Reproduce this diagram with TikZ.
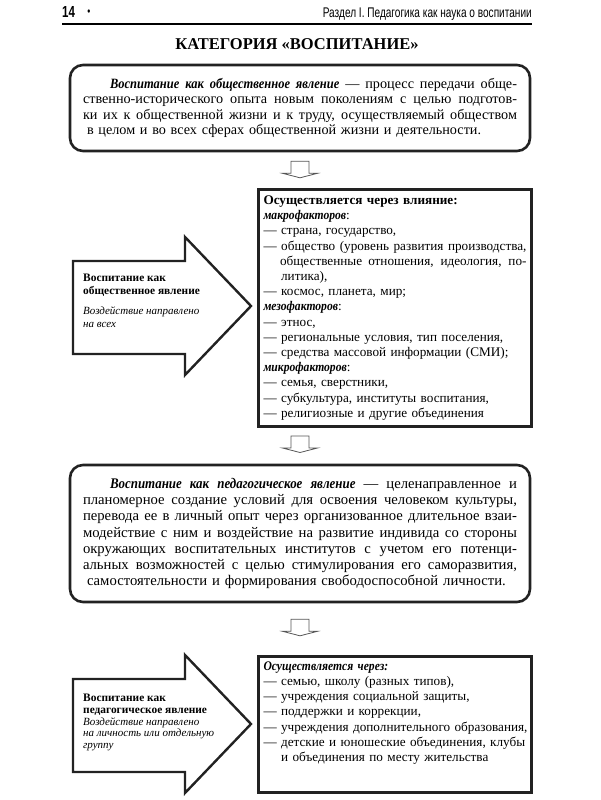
\documentclass[tikz,border=0pt]{standalone}
\usepackage{fontspec}
\setmainfont{Liberation Serif}[BoldItalicFeatures={FakeStretch=0.88}]
\newfontfamily\headfont[FakeStretch=0.72]{Liberation Sans}
\usetikzlibrary{calc}
\definecolor{framegray}{HTML}{222222}
\definecolor{arrowgray}{HTML}{555555}
\newcommand{\jline}[2][434pt]{\leavevmode\hbox to #1{\spaceskip=0.25em plus 1em minus 0.06em\xspaceskip=0.3em plus 1em minus 0.06em\relax#2}}
\tikzset{
  roundbox/.style={draw=framegray,line width=2.6pt,rounded corners=13pt,minimum width=460pt,inner xsep=13pt,text width=434pt,align=left},
  squarebox/.style={draw=framegray,line width=3pt,anchor=north west,minimum width=273pt,inner sep=5pt,text width=263pt,align=left,font=\fontsize{13.2}{15.2}\selectfont},
  bigarrow/.style={draw=framegray,line width=2.4pt,line join=miter},
  arrowtext/.style={anchor=north west,inner sep=0pt,align=left},
  blockdown/.pic={\draw[arrowgray,line width=0.8pt] (-9,0) -- (9,0) -- (9,12) -- (17.5,12) -- (0,16.5) -- (-17.5,12) -- (-9,12) -- cycle;}
}

\begin{document}
\begin{tikzpicture}[x=1pt,y=-1pt]
    \useasboundingbox (0,0) rectangle (600,800);
    \node[anchor=base west,inner sep=0pt,font=\headfont\bfseries\fontsize{16}{16}\selectfont] (pagenum) at (62,18) {14};
    \node[anchor=base,inner sep=0pt,font=\headfont\fontsize{12}{12}\selectfont] (pagedot) at (89,16) {•};
    \node[anchor=base east,inner sep=0pt,font=\headfont\fontsize{14}{14}\selectfont] (runhead) at (532,18) {Раздел I. Педагогика как наука о воспитании};
    \draw[line width=1.4pt] (62,24) -- (532,24);
    \node[font=\bfseries\fontsize{16.5}{16.5}\selectfont] (title) at (297,44) {КАТЕГОРИЯ «ВОСПИТАНИЕ»};

    \node[roundbox,minimum height=86pt,font=\fontsize{14.2}{15.5}\selectfont] (social) at (300,108) {%
        \jline{\hspace*{27pt}\textbf{\textit{Воспитание как общественное явление}} — процесс передачи обще-}\\
        \jline{ственно-исторического опыта новым поколениям с целью подготов-}\\
        \jline{ки их к общественной жизни и к труду, осуществляемый обществом}\\
        \hspace*{4pt}в целом и во всех сферах общественной жизни и деятельности.};

    \node[squarebox,minimum height=237pt] (influence) at (257,188) {%
        \textbf{Осуществляется через влияние:}\\
        \textbf{\textit{макрофакторов}}:\\
        — страна, государство,\\
        \jline[263pt]{— общество (уровень развития производства,}\\
        \jline[263pt]{\phantom{— }общественные отношения, идеология, по-}\\
        \phantom{— }литика),\\
        — космос, планета, мир;\\
        \textbf{\textit{мезофакторов}}:\\
        — этнос,\\
        — региональные условия, тип поселения,\\
        \makebox[263pt][l]{— средства массовой информации (СМИ);}\\
        \textbf{\textit{микрофакторов}}:\\
        — семья, сверстники,\\
        — субкультура, институты воспитания,\\
        — религиозные и другие объединения};

    \node[roundbox,minimum height=137pt,font=\fontsize{14.7}{16.3}\selectfont] (pedag) at (300,533.5) {%
        \jline{\hspace*{27pt}\textbf{\textit{Воспитание как педагогическое явление}} — целенаправленное и}\\
        \jline{планомерное создание условий для освоения человеком культуры,}\\
        \jline{перевода ее в личный опыт через организованное длительное взаи-}\\
        \jline{модействие с ним и воздействие на развитие индивида со стороны}\\
        \jline{окружающих воспитательных институтов с учетом его потенци-}\\
        \jline{альных возможностей с целью стимулирования его саморазвития,}\\
        \hspace*{4pt}самостоятельности и формирования свободоспособной личности.};

    \node[squarebox,text depth=117pt] (agents) at (257,655) {%
        \textbf{\textit{Осуществляется через:}}\\
        — семью, школу (разных типов),\\
        — учреждения социальной защиты,\\
        — поддержки и коррекции,\\
        \makebox[263pt][l]{— учреждения дополнительного образования,}\\
        \makebox[263pt][l]{— детские и юношеские объединения, клубы}\\
        \phantom{— }и объединения по месту жительства};

    \pic at ($(social.south)+(0,9)$) {blockdown};
    \pic at ($(social.south |- influence.south)+(0,8)$) {blockdown};
    \pic at ($(pedag.south)+(0,16)$) {blockdown};

    \foreach \top in {237,655}{
        \draw[bigarrow] (73,\top+24) -- (185,\top+24) -- (185,\top) -- (251,\top+69) -- (185,\top+138) -- (185,\top+117) -- (73,\top+117) -- cycle;
    }
    \node[arrowtext,font=\fontsize{11}{13}\selectfont] (sociallabel) at (83,274) {%
        {\bfseries\fontsize{11.4}{13}\selectfont Воспитание как}\\
        {\bfseries\fontsize{11.4}{13}\selectfont общественное явление}\\[7pt]
        \textit{Воздействие направлено}\\
        \textit{на всех}};
    \node[arrowtext,font=\fontsize{11}{11.7}\selectfont] (pedaglabel) at (83,694) {%
        {\bfseries\fontsize{11.4}{11.7}\selectfont Воспитание как}\\
        {\bfseries\fontsize{11.4}{11.7}\selectfont педагогическое явление}\\
        \textit{Воздействие направлено}\\
        \textit{на личность или отдельную}\\
        \textit{группу}};
\end{tikzpicture}
\end{document}
